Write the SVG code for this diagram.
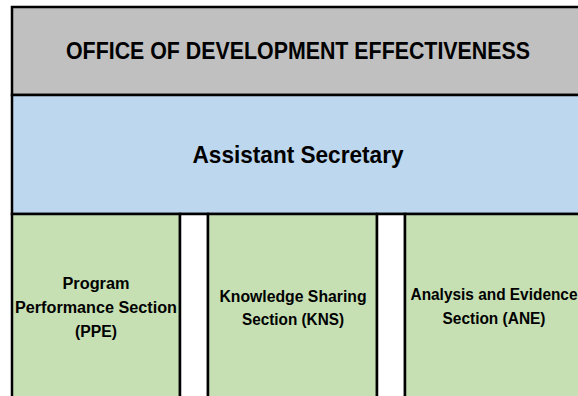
<svg xmlns="http://www.w3.org/2000/svg" width="578" height="396" viewBox="0 0 578 396">
<style>
.box{stroke:#000;stroke-width:2.5}
.t{font-family:"Liberation Sans",Arial,sans-serif;font-weight:bold;fill:#000;text-anchor:middle}
.s{font-size:16px}
</style>
<rect width="578" height="396" fill="#fff"/>
<g id="office">
<rect class="box" x="12" y="7" width="600" height="88" fill="#C0C0C0"/>
<text class="t" x="298" y="59" font-size="23" textLength="464" lengthAdjust="spacingAndGlyphs">OFFICE OF DEVELOPMENT EFFECTIVENESS</text>
</g>
<g id="assistant">
<rect class="box" x="12" y="95" width="600" height="119" fill="#BDD7EE"/>
<text class="t" x="298" y="163" font-size="24" textLength="211" lengthAdjust="spacingAndGlyphs">Assistant Secretary</text>
</g>
<g id="ppe">
<rect class="box" x="12" y="214" width="168" height="200" fill="#C6E0B4"/>
<text class="t s" x="96" y="289" textLength="67" lengthAdjust="spacingAndGlyphs">Program</text>
<text class="t s" x="96" y="313" textLength="162" lengthAdjust="spacingAndGlyphs">Performance Section</text>
<text class="t s" x="96" y="337" textLength="42" lengthAdjust="spacingAndGlyphs">(PPE)</text>
</g>
<g id="gap1"><rect class="box" x="180" y="214" width="28" height="200" fill="#fff"/></g>
<g id="kns">
<rect class="box" x="208" y="214" width="169" height="200" fill="#C6E0B4"/>
<text class="t s" x="293" y="302" textLength="147" lengthAdjust="spacingAndGlyphs">Knowledge Sharing</text>
<text class="t s" x="293" y="325" textLength="102" lengthAdjust="spacingAndGlyphs">Section (KNS)</text>
</g>
<g id="gap2"><rect class="box" x="377" y="214" width="28" height="200" fill="#fff"/></g>
<g id="ane">
<rect class="box" x="405" y="214" width="200" height="200" fill="#C6E0B4"/>
<text class="t s" x="494" y="300" textLength="167" lengthAdjust="spacingAndGlyphs">Analysis and Evidence</text>
<text class="t s" x="494" y="324" textLength="103" lengthAdjust="spacingAndGlyphs">Section (ANE)</text>
</g>
<g id="connectors"></g>
</svg>
